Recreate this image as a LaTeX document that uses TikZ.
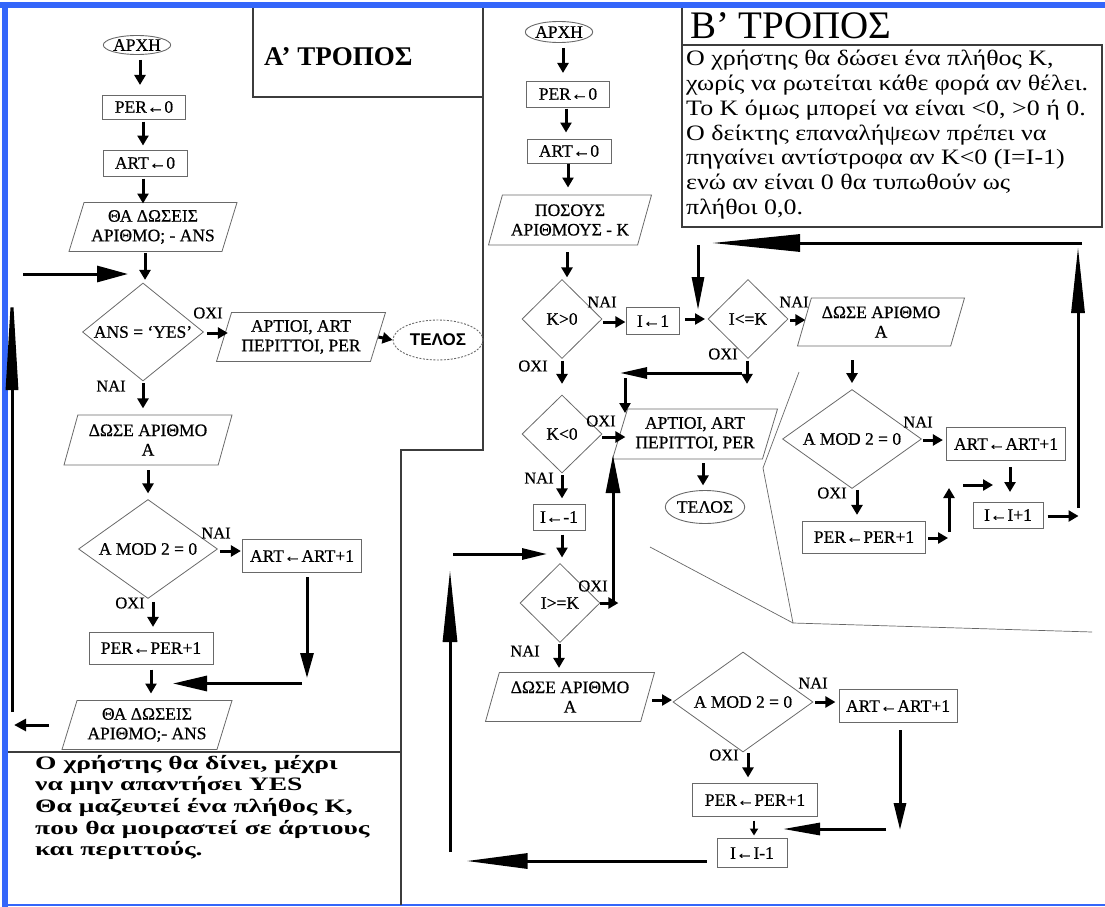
\documentclass[tikz,border=0pt]{standalone}
\usepackage{fontspec}
\setmainfont{Liberation Serif}
\newfontfamily\sansb{Liberation Sans}
\newfontfamily\wideserif[FakeStretch=1.45]{Liberation Serif}
\newfontfamily\notefont[FakeStretch=1.18]{Liberation Serif}
\newfontfamily\chartfont[FakeBold=0.6]{Liberation Serif}
\usetikzlibrary{arrows.meta,shapes.geometric}

\definecolor{frameblue}{RGB}{52,102,250}
\definecolor{rulegray}{RGB}{60,60,60}
\definecolor{shapegray}{RGB}{105,105,105}

\tikzset{
  nodefont/.style={font=\chartfont\fontsize{17.5}{19.5}\selectfont},
  box/.style={draw=shapegray, line width=1pt, inner sep=0pt, nodefont},
  dec/.style={box, diamond, aspect=1.4, line width=0.8pt},
  io/.style={box, trapezium, trapezium left angle=66, trapezium right angle=114,
             trapezium stretches body, align=center, line width=0.8pt},
  term/.style={box, ellipse, line width=0.9pt},
  lbl/.style={inner sep=0pt, font=\chartfont\fontsize{16.5}{17}\selectfont},
  arr/.style={line width=3pt, -{Triangle[length=10pt,width=11pt]}},
  thinarr/.style={line width=2.2pt, -{Triangle[length=7pt,width=8pt]}},
  bigarr/.style 2 args={line width=3pt, -{Triangle[length=#1,width=#2]}},
  rule/.style={draw=rulegray, line width=1.1pt},
  fence/.style={draw=black!60, line width=0.7pt}
}

\begin{document}
\begin{tikzpicture}[x=1pt,y=-1pt]
\useasboundingbox (0,0) rectangle (1105,907);

% page frame
\fill[frameblue] (0,2) rectangle (1105,8);
\fill[frameblue] (2,2) rectangle (8,907);
\draw[frameblue, line width=1.5pt] (2,905) -- (1105,905);

% separating rules
\draw[rule] (253,8) -- (253,97) -- (483,97);
\draw[rule] (483,8) -- (483,450) -- (401,450) -- (401,905);
\draw[rule] (8,752) -- (401,752);
\draw[rule] (682,8) -- (682,45);
\draw[rule] (682,45) rectangle (1102,227);

% fence round the inner loop of the second method
\draw[fence] (799,372) -- (763,468) -- (793,623) -- (1092,632);
\draw[fence] (650,547) -- (793,623);

% titles and notes
\node[anchor=west, inner sep=0pt, font=\fontsize{27}{27}\selectfont\bfseries] (titleA) at (264,57) {Α’ ΤΡΟΠΟΣ};
\node[anchor=west, inner sep=0pt, font=\fontsize{39}{39}\selectfont] (titleB) at (690,26) {Β’ ΤΡΟΠΟΣ};
\node[anchor=north west, inner sep=0pt, align=left, font=\notefont\fontsize{22}{24.8}\selectfont] (noteB) at (686,50)
  {Ο χρήστης θα δώσει ένα πλήθος Κ,\\
   χωρίς να ρωτείται κάθε φορά αν θέλει.\\
   Το Κ όμως μπορεί να είναι <0, >0 ή 0.\\
   Ο δείκτης επαναλήψεων πρέπει να\\
   πηγαίνει αντίστροφα αν Κ<0 (Ι=Ι-1)\\
   ενώ αν είναι 0 θα τυπωθούν ως\\
   πλήθοι 0,0.};
\node[anchor=north west, inner sep=0pt, align=left, font=\wideserif\bfseries\fontsize{19}{21.6}\selectfont] (noteA) at (35,755)
  {Ο χρήστης θα δίνει, μέχρι\\
   να μην απαντήσει YES\\
   Θα μαζευτεί ένα πλήθος Κ,\\
   που θα μοιραστεί σε άρτιους\\
   και περιττούς.};

% ---------- first method ----------
\node[term, minimum width=65pt, minimum height=19pt] (a1) at (137,45) {ΑΡΧΗ};
\node[box, minimum width=83pt, minimum height=24pt] (a2) at (144,107) {PER←0};
\node[box, minimum width=84pt, minimum height=26pt] (a3) at (145,163) {ART←0};
\node[io, minimum width=168pt, minimum height=49pt] (a4) at (153,227) {ΘΑ ΔΩΣΕΙΣ\\ΑΡΙΘΜΟ; - ANS};
\node[dec, minimum width=121pt, minimum height=98pt] (a5) at (143,332) {ANS = ‘YES’};
\node[io, minimum width=169pt, minimum height=49pt] (a6) at (301,337) {ΑΡΤΙΟΙ, ART\\ΠΕΡΙΤΤΟΙ, PER};
\node[term, dash pattern=on 2pt off 1.5pt, minimum width=90pt, minimum height=40pt,
      font=\sansb\bfseries\fontsize{17}{17}\selectfont] (a7) at (438,340) {ΤΕΛΟΣ};
\node[io, minimum width=168pt, minimum height=50pt] (a8) at (148,440) {ΔΩΣΕ ΑΡΙΘΜΟ\\Α};
\node[dec, minimum width=139pt, minimum height=99pt] (a9) at (148,549) {Α MOD 2 = 0};
\node[box, minimum width=119pt, minimum height=33pt] (a10) at (302,556) {ART←ART+1};
\node[box, minimum width=124pt, minimum height=32pt] (a11) at (151,648) {PER←PER+1};
\node[io, minimum width=170pt, minimum height=49pt] (a12) at (147,725) {ΘΑ ΔΩΣΕΙΣ\\ΑΡΙΘΜΟ;- ANS};

\node[lbl] (a5no) at (208,313) {ΟΧΙ};
\node[lbl] (a5yes) at (111,386) {ΝΑΙ};
\node[lbl] (a9yes) at (216,533) {ΝΑΙ};
\node[lbl] (a9no) at (130,603) {ΟΧΙ};

\coordinate (loopAfoot) at (12,712);
\coordinate (loopAtop) at (23,274);

\draw[arr] ([xshift=3pt]a1.south) ++(0,5) -- ++(0,25);
\draw[arr] (a2.south) ++(-1,2) -- ++(0,24);
\draw[arr] (a3.south) ++(-2,2) -- ++(0,25);
\draw[arr] (a4.south) ++(-8,1) -- ++(0,27);
\draw[arr] (a5.east) ++(3,1) -- ++(21,0);
\draw[arr] (a6.east) -- (a7.west);
\draw[arr] (a5.south) ++(0,2) -- ++(0,25);
\draw[arr] (a8.south) ++(0,5) -- ++(0,23);
\draw[arr] (a9.east) ++(2,2) -- ++(21,0);
\draw[arr] (a9.south) ++(5,3) -- ++(0,25);
\draw[arr] (a11.south) ++(0,5) -- ++(0,24);
\draw[bigarr={25pt}{13pt}] (a10.south) ++(5,4) -- ++(0,101);
\draw[bigarr={34pt}{15pt}] (a10.south) ++(0,110.5) -- ++(-129,0);
\draw[bigarr={12pt}{12pt}] (a12.west) ++(-20,0) -- ++(-35,0);
\draw[bigarr={110pt}{12pt}] (loopAfoot) -- ++(0,-432);
\draw[bigarr={31pt}{16pt}] (loopAtop) -- ++(105,0);

% ---------- second method ----------
\node[term, minimum width=65pt, minimum height=21pt] (b1) at (559,32) {ΑΡΧΗ};
\node[box, minimum width=83pt, minimum height=26pt] (b2) at (568,94) {PER←0};
\node[box, minimum width=84pt, minimum height=24pt] (b3) at (569,151) {ART←0};
\node[io, minimum width=163pt, minimum height=50pt] (b4) at (570,220) {ΠΟΣΟΥΣ\\ΑΡΙΘΜΟΥΣ - Κ};
\node[dec, minimum width=80pt, minimum height=79pt] (b5) at (562,319) {Κ>0};
\node[box, minimum width=53pt, minimum height=27pt] (b6) at (653,321) {Ι←1};
\node[dec, minimum width=80pt, minimum height=79pt] (b7) at (748,319) {Ι<=Κ};
\node[io, minimum width=167pt, minimum height=48pt] (b8) at (881,322) {ΔΩΣΕ ΑΡΙΘΜΟ\\Α};
\node[dec, minimum width=80pt, minimum height=78pt] (b9) at (562,434) {Κ<0};
\node[io, minimum width=165pt, minimum height=50pt] (b10) at (695,434) {ΑΡΤΙΟΙ, ART\\ΠΕΡΙΤΤΟΙ, PER};
\node[term, minimum width=79pt, minimum height=33pt] (b11) at (705,507) {ΤΕΛΟΣ};
\node[box, minimum width=52pt, minimum height=26pt] (b12) at (559,517) {Ι←-1};
\node[dec, minimum width=80pt, minimum height=79pt] (b13) at (560,603) {Ι>=Κ};
\node[io, minimum width=169pt, minimum height=49pt] (b14) at (570,697) {ΔΩΣΕ ΑΡΙΘΜΟ\\Α};
\node[dec, minimum width=140pt, minimum height=100pt] (b15) at (743,702) {Α MOD 2 = 0};
\node[box, minimum width=118pt, minimum height=33pt] (b16) at (898,706) {ART←ART+1};
\node[box, minimum width=125pt, minimum height=33pt] (b17) at (755,800) {PER←PER+1};
\node[box, minimum width=70pt, minimum height=29pt] (b18) at (752,853) {Ι←Ι-1};
\node[dec, minimum width=139pt, minimum height=99pt] (b19) at (852,439) {Α MOD 2 = 0};
\node[box, minimum width=119pt, minimum height=33pt] (b20) at (1006,444) {ART←ART+1};
\node[box, minimum width=123pt, minimum height=32pt] (b21) at (864,537) {PER←PER+1};
\node[box, minimum width=70pt, minimum height=26pt] (b22) at (1008,515) {Ι←Ι+1};

\node[lbl] (b5yes) at (602,302) {ΝΑΙ};
\node[lbl] (b5no) at (533,366) {ΟΧΙ};
\node[lbl] (b7yes) at (794,302) {ΝΑΙ};
\node[lbl] (b7no) at (723,354) {ΟΧΙ};
\node[lbl] (b9no) at (601,421) {ΟΧΙ};
\node[lbl] (b9yes) at (539,478) {ΝΑΙ};
\node[lbl] (b13no) at (593,586) {ΟΧΙ};
\node[lbl] (b13yes) at (525,651) {ΝΑΙ};
\node[lbl] (b15yes) at (813,683) {ΝΑΙ};
\node[lbl] (b15no) at (724,755) {ΟΧΙ};
\node[lbl] (b19yes) at (918,422) {ΝΑΙ};
\node[lbl] (b19no) at (832,493) {ΟΧΙ};

% free ends of the loop-back connectors
\coordinate (backR) at (1082,243);
\coordinate (backRfoot) at (1078,508);
\coordinate (dropI) at (698,245);
\coordinate (exitI) at (742,373);
\coordinate (exitIdrop) at (625,378);
\coordinate (backL) at (453,554);
\coordinate (backLfoot) at (450,852);
\coordinate (exitD) at (613,603);
\coordinate (joinR) at (963,485);

\draw[arr] (b1.south) ++(4,5) -- ++(0,25);
\draw[arr] (b2.south) ++(-2,1) -- ++(0,24);
\draw[arr] (b3.south) ++(-1,0) -- ++(0,24);
\draw[arr] (b4.south) ++(-3,7) -- ++(0,25);
\draw[arr] (b5.east) ++(1,3) -- ++(22,0);
\draw[arr] (b6.east) ++(5,-2) -- ++(20,0);
\draw[arr] (b7.east) ++(2,1) -- ++(15,0);
\draw[arr] (b7.south) ++(-1,2) -- ++(0,23);
\draw[arr] (b5.south) ++(0,2) -- ++(0,23);
\draw[arr] (b9.east) ++(0,3) -- ++(23,0);
\draw[arr] (b10.south) ++(8,4) -- ++(0,22);
\draw[arr] (b9.south) ++(0,2) -- ++(0,23);
\draw[arr] (b12.south) ++(3,4) -- ++(0,23);
\draw[arr] (b13.east) ++(0,0) -- ++(18,0);
\draw[arr] (b13.south) ++(-1,1) -- ++(0,24);
\draw[arr] (b14.east) ++(4,3) -- ++(20,0);
\draw[arr] (b15.east) ++(2,0) -- ++(20,0);
\draw[arr] (b15.south) ++(5,1) -- ++(0,24);
\draw[thinarr] (b17.south) ++(-1,3.5) -- ++(0,15);
\draw[arr] (b19.north) ++(0,-29) -- ++(0,23);
\draw[arr] (b19.east) ++(1,1) -- ++(20,0);
\draw[arr] (b20.south) ++(4,6) -- ++(0,25);
\draw[arr] (joinR) -- ++(30,0);
\draw[arr] (b22.east) ++(4,1) -- ++(31,0);
\draw[arr] (b19.south) ++(5,1) -- ++(0,25);
\draw[arr] (b21.east) ++(2,1) -- ++(20,0);
\draw[arr] (b21.east) ++(23,-5) -- ++(0,-44);
\draw[arr] (exitIdrop) -- ++(0,35);

\draw[bigarr={88pt}{17pt}] (backR) -- ++(-370,0);
\draw[bigarr={33pt}{12pt}] (dropI) -- ++(0,65);
\draw[bigarr={66pt}{13pt}] (backRfoot) -- ++(0,-261);
\draw[bigarr={27pt}{11pt}] (exitI) -- ++(-122,0);
\draw[bigarr={25pt}{11pt}] (backL) -- ++(94,0);
\draw[bigarr={72pt}{14pt}] (backLfoot) -- ++(0,-282);
\draw[bigarr={38pt}{14pt}] (exitD) -- ++(0,-148);
\draw[bigarr={27pt}{12pt}] (b16.south) ++(2,7) -- ++(0,100);
\draw[bigarr={37pt}{12pt}] (b16.south) ++(-12,106) -- ++(-103,0);
\draw[bigarr={61pt}{15pt}] (b18.west) ++(-10,8) -- ++(-240,0);
\end{tikzpicture}
\end{document}
